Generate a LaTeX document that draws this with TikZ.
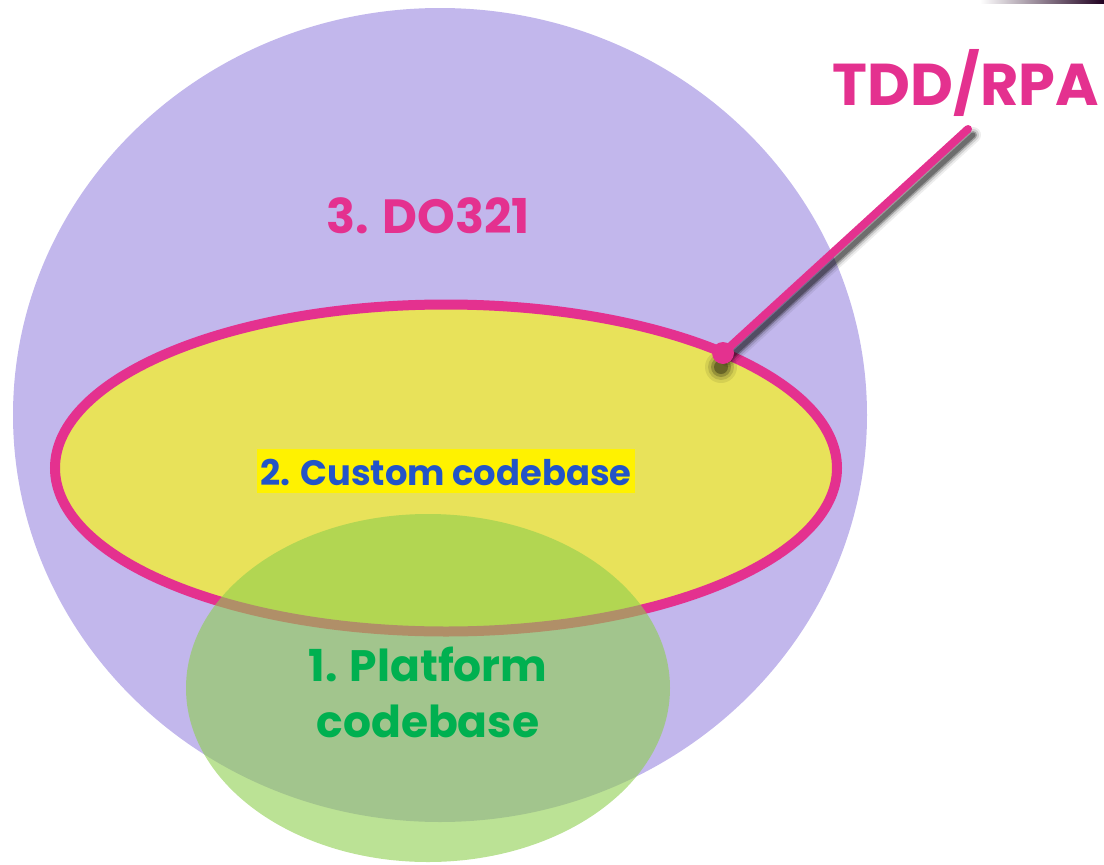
\documentclass[tikz,border=0pt]{standalone}
\usepackage{fontspec}
\setmainfont{Poppins}
\usetikzlibrary{shapes}

\definecolor{venpurple}{RGB}{194,183,236}
\definecolor{venyellow}{RGB}{232,226,90}
\definecolor{venpink}{RGB}{228,49,143}
\definecolor{vengreen}{RGB}{142,207,78}
\definecolor{venblue}{RGB}{34,84,200}
\definecolor{ventext}{RGB}{0,176,80}

\tikzset{lbl/.style={align=center,inner sep=0pt,font=\bfseries},
  blur/.style={shape=circle,fill=black,inner sep=0pt}}

\begin{document}
\begin{tikzpicture}[x=1pt,y=-1pt]
\useasboundingbox (0,0) rectangle (1104,865);
\shade[left color=white,right color=black!75!violet] (980,0) rectangle (1104,3);

\node[shape=ellipse,fill=venpurple,inner sep=0pt,minimum width=854pt,minimum height=814pt] (0) at (440,415) {};
\node[shape=ellipse,fill=venyellow,draw=venpink,line width=10pt,inner sep=0pt,minimum width=782pt,minimum height=327pt] (1) at (446,468) {};
\node[shape=ellipse,fill=vengreen,fill opacity=0.6,inner sep=0pt,minimum width=484pt,minimum height=348pt] (2) at (428,688) {};

\node[lbl,text=venpink,anchor=base,font=\bfseries\fontsize{48}{56}\selectfont] (3) at (428,233) {3. DO321};
\node[lbl,text=venblue,fill=yellow,anchor=base,inner xsep=3pt,inner ysep=2pt,text height=34pt,text depth=6pt,font=\bfseries\fontsize{35.3}{42}\selectfont] (4) at (446,485) {2. Custom codebase};
\node[lbl,text=ventext,anchor=center,font=\bfseries\fontsize{44}{56}\selectfont] (5) at (428,692) {1. Platform\\codebase};
\node[lbl,text=venpink,anchor=base,font=\bfseries\fontsize{59}{70}\selectfont] (6) at (966,105) {TDD/RPA};

\coordinate (7) at (968,129);
\coordinate (11) at (723,353);
% shadow of the pointer
\node[blur,opacity=0.08,minimum size=32pt] (8) at (721,367) {};
\node[blur,opacity=0.12,minimum size=26pt] (10) at (721,367) {};
\node[blur,opacity=0.2,minimum size=20pt] (12) at (721,367) {};
\node[blur,opacity=0.3,minimum size=14pt] (13) at (721,367) {};
\path [-,draw=black,line width=16pt,line cap=round,opacity=0.07] ([shift={(5,6)}]11) edge ([shift={(5,6)}]7);
\path [-,draw=black,line width=12pt,line cap=round,opacity=0.12] ([shift={(5,6)}]11) edge ([shift={(5,6)}]7);
\path [-,draw=black,line width=8pt,line cap=round,opacity=0.25] ([shift={(5,6)}]11) edge ([shift={(5,6)}]7);
\path [-,draw=black,line width=5pt,line cap=round,opacity=0.3] ([shift={(5,6)}]11) edge ([shift={(5,6)}]7);
% pointer
\node[shape=circle,fill=venpink,minimum size=22pt,inner sep=0pt] (9) at (11) {};
\path [-,draw=venpink,line width=8pt,line cap=round] (9.center) edge (7);
\end{tikzpicture}
\end{document}
